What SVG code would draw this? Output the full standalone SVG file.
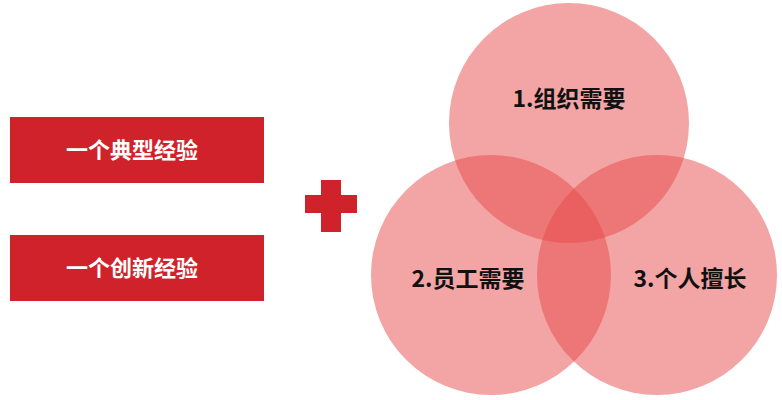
<svg xmlns="http://www.w3.org/2000/svg" width="782" height="400" viewBox="0 0 782 400">
<style>
.box{fill:#d0222b}
.bt{fill:#fff;font-family:"Noto Sans CJK SC",sans-serif;font-weight:bold;font-size:22px;text-anchor:middle}
.c{fill:#e84a4a;fill-opacity:0.5}
.ct{fill:#111;font-family:"Noto Sans CJK SC",sans-serif;font-weight:bold;font-size:23px;text-anchor:middle}
</style>
<rect width="782" height="400" fill="#fff"/>
<g id="box1"><rect class="box" x="10" y="117" width="254" height="66"/><text class="bt" x="132" y="158">一个典型经验</text></g>
<g id="box2"><rect class="box" x="10" y="235" width="254" height="66"/><text class="bt" x="132" y="276">一个创新经验</text></g>
<g id="plus"><rect class="box" x="321" y="180" width="20" height="52"/><rect class="box" x="305" y="195" width="52" height="18"/></g>
<g id="c1"><circle class="c" cx="569" cy="123" r="120"/></g>
<g id="c2"><circle class="c" cx="491" cy="275" r="120"/></g>
<g id="c3"><circle class="c" cx="657" cy="275" r="120"/></g>
<g id="labels">
<text class="ct" x="569" y="107">1.组织需要</text>
<text class="ct" x="468" y="287">2.员工需要</text>
<text class="ct" x="690" y="287">3.个人擅长</text>
</g>
<g id="connectors"/>
</svg>
